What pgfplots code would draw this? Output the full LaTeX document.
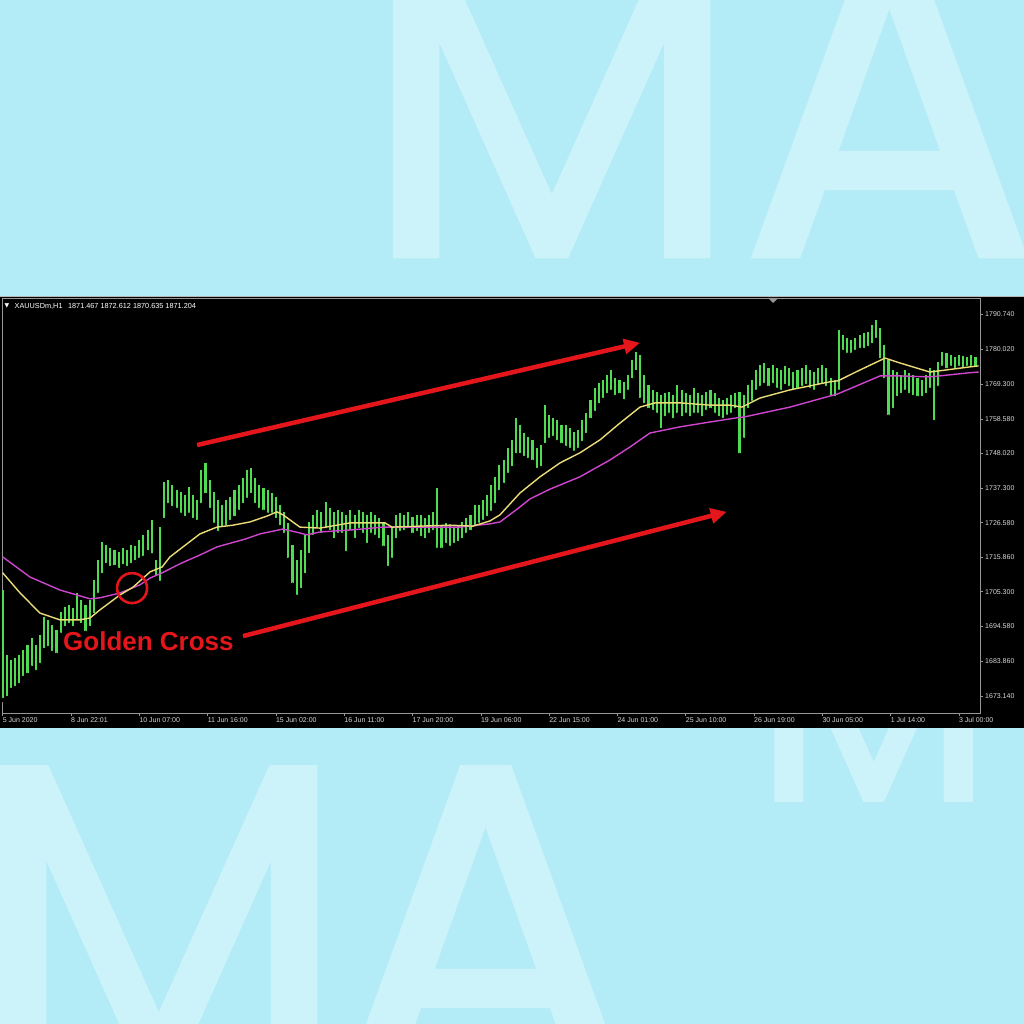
\documentclass[border=0pt]{standalone}
\usepackage{pgfplots}
\pgfplotsset{compat=1.18}
\usepackage{pgfplotstable}
\usepackage{fontspec}
\setmainfont{Liberation Sans}
\newfontfamily\posterfont[FakeBold=1.5]{Poppins}
\newfontfamily\symbolfont{DejaVu Sans}
\usetikzlibrary{arrows.meta}

\definecolor{bgblue}{RGB}{179,236,246}
\definecolor{letterblue}{RGB}{205,243,250}
\definecolor{framegray}{RGB}{150,150,150}
\definecolor{labelgray}{RGB}{215,215,215}
\definecolor{barcol}{RGB}{80,220,80}
\definecolor{maFast}{RGB}{235,220,120}
\definecolor{maSlow}{RGB}{205,70,205}
\definecolor{annred}{RGB}{228,22,28}

% shared geometry of the price panel
\pgfplotsset{pricepanel/.style={
  at={(2pt,311pt)}, anchor=south west,
  scale only axis, width=978pt, height=415pt,
  xmin=-0.34, xmax=472.2, ymin=1667.90, ymax=1795.83}}

% XAUUSD H1 bars (hour index, high, low)
\pgfplotstableread{
i hi lo
0 1705.8 1671.9
2 1685.8 1672.5
4 1684.2 1675.0
6 1684.9 1675.6
8 1685.8 1676.5
10 1687.3 1678.7
12 1688.9 1679.6
14 1691.0 1681.8
16 1688.9 1680.5
18 1692.0 1682.7
20 1697.5 1687.3
22 1696.6 1687.9
24 1695.0 1686.4
26 1693.5 1685.8
28 1699.0 1692.0
30 1700.6 1694.1
32 1701.2 1695.0
34 1700.3 1694.1
36 1704.9 1696.0
38 1702.7 1695.0
40 1701.2 1692.6
42 1702.7 1694.1
44 1708.9 1698.1
46 1715.1 1704.3
48 1720.6 1710.4
50 1719.7 1713.5
52 1718.8 1712.6
54 1718.2 1712.9
56 1717.5 1712.0
58 1718.8 1713.2
60 1718.2 1712.6
62 1719.7 1713.5
64 1719.4 1714.4
66 1721.2 1715.1
68 1722.8 1715.7
70 1724.3 1717.5
72 1727.4 1716.5
74 1715.1 1709.5
76 1725.2 1708.0
78 1739.1 1727.4
80 1739.7 1732.0
82 1738.2 1731.1
84 1736.6 1730.5
86 1736.0 1729.0
88 1735.1 1728.0
90 1737.6 1729.0
92 1735.1 1727.4
94 1733.6 1726.8
96 1742.8 1732.0
98 1745.0 1735.1
100 1739.7 1730.5
102 1736.0 1725.9
104 1733.6 1723.4
106 1732.0 1724.9
108 1733.6 1725.2
110 1734.5 1726.8
112 1736.6 1728.0
114 1738.2 1729.9
116 1740.3 1732.0
118 1742.8 1733.6
120 1743.4 1735.1
122 1740.3 1732.0
124 1738.2 1730.5
126 1737.3 1729.9
128 1736.6 1729.0
130 1735.7 1729.0
132 1734.5 1727.4
134 1732.0 1725.2
136 1729.9 1722.8
138 1726.5 1715.1
140 1719.7 1707.4
142 1715.1 1703.7
144 1718.2 1705.8
146 1722.8 1710.4
148 1726.8 1716.6
150 1729.0 1722.2
152 1730.5 1724.3
154 1729.9 1722.8
156 1733.0 1724.3
158 1731.1 1723.7
160 1729.9 1721.2
162 1730.5 1722.8
164 1729.9 1722.8
166 1729.0 1717.2
168 1730.5 1723.7
170 1729.0 1721.2
172 1730.5 1724.3
174 1729.9 1722.8
176 1729.0 1719.7
178 1729.9 1722.8
180 1729.0 1722.2
182 1728.0 1721.2
184 1726.8 1718.8
186 1722.8 1712.6
188 1724.9 1715.1
190 1729.0 1721.2
192 1729.6 1723.4
194 1729.0 1723.7
196 1729.9 1724.3
198 1728.3 1722.8
200 1729.0 1723.4
202 1729.0 1721.8
204 1728.0 1721.2
206 1729.0 1722.8
208 1729.9 1723.7
210 1737.3 1718.2
212 1725.9 1718.2
214 1726.5 1719.7
216 1725.9 1718.8
218 1724.9 1719.7
220 1725.9 1720.3
222 1726.8 1721.2
224 1728.0 1722.8
226 1729.0 1723.7
228 1732.0 1724.9
230 1732.0 1725.9
232 1733.6 1726.8
234 1735.1 1728.0
236 1738.2 1729.6
238 1740.6 1732.0
240 1744.3 1736.0
242 1745.9 1738.2
244 1749.6 1741.3
246 1752.1 1743.4
248 1758.8 1747.4
250 1756.7 1747.4
252 1754.2 1746.5
254 1753.0 1745.9
256 1752.1 1745.3
258 1749.6 1742.8
260 1750.5 1743.4
262 1762.8 1750.5
264 1759.8 1752.1
266 1758.8 1752.7
268 1758.2 1751.4
270 1756.7 1750.5
272 1756.7 1749.6
274 1755.8 1749.0
276 1754.5 1748.1
278 1755.1 1749.0
280 1758.2 1751.1
282 1760.4 1753.6
284 1764.4 1758.2
286 1768.1 1760.4
288 1769.6 1762.8
290 1770.5 1764.4
292 1772.1 1765.9
294 1773.6 1766.9
296 1771.2 1765.3
298 1770.5 1765.9
300 1769.9 1764.0
302 1772.1 1766.9
304 1776.7 1770.5
306 1779.2 1773.0
308 1778.3 1764.4
310 1772.1 1762.8
312 1769.0 1761.3
314 1767.5 1760.7
316 1766.9 1759.8
318 1765.9 1755.1
320 1766.6 1758.8
322 1766.9 1759.8
324 1765.9 1758.2
326 1769.0 1759.8
328 1767.5 1758.8
330 1766.6 1759.8
332 1765.9 1758.8
334 1768.1 1759.8
336 1766.6 1759.8
338 1765.9 1758.8
340 1766.9 1760.7
342 1767.5 1761.3
344 1766.6 1759.8
346 1765.0 1758.8
348 1764.4 1758.2
350 1765.0 1759.2
352 1765.9 1759.8
354 1766.6 1761.3
356 1766.9 1747.4
358 1765.9 1752.1
360 1769.0 1761.3
362 1770.5 1763.5
364 1773.6 1766.9
366 1775.2 1768.1
368 1775.8 1769.0
370 1774.3 1768.1
372 1775.2 1769.0
374 1774.3 1767.5
376 1773.6 1766.9
378 1774.9 1768.7
380 1774.3 1768.1
382 1773.0 1766.9
384 1773.6 1767.5
386 1774.3 1768.1
388 1775.2 1768.7
390 1773.6 1767.5
392 1773.0 1766.9
394 1774.3 1768.4
396 1775.2 1769.0
398 1774.3 1768.1
400 1771.2 1765.0
402 1770.5 1765.0
404 1786.0 1766.9
406 1784.4 1779.2
408 1783.5 1778.3
410 1782.9 1778.3
412 1783.5 1779.2
414 1784.4 1779.8
416 1785.0 1779.8
418 1785.3 1780.4
420 1787.5 1781.3
422 1789.1 1782.9
424 1786.6 1776.7
426 1781.3 1770.5
428 1776.7 1759.2
430 1773.6 1761.3
432 1773.0 1765.0
434 1772.1 1765.9
436 1773.6 1766.9
438 1772.7 1765.9
440 1772.1 1765.3
442 1771.2 1765.0
444 1770.5 1765.0
446 1772.1 1765.9
448 1774.3 1767.5
450 1773.6 1757.6
452 1776.1 1768.1
454 1779.2 1774.3
456 1778.9 1773.6
458 1778.3 1774.3
460 1777.7 1773.6
462 1778.3 1774.3
464 1778.0 1773.6
466 1777.7 1774.3
468 1778.3 1774.3
470 1777.7 1774.0
}\hourbars

\begin{document}
\begin{tikzpicture}
\useasboundingbox (0,0) rectangle (1024pt,1024pt);

% poster background with the large MA lettering
\begin{scope}[x=1pt,y=-1pt,yshift=1024pt]
  \fill[bgblue] (0,0) rectangle (1024,1024);
  \clip (0,0) rectangle (1024,1024);
  \node[anchor=base west,inner sep=0pt,text=letterblue,
        font=\posterfont\fontsize{440}{440}\selectfont] at (362,255) {MA};
  \node[anchor=base west,inner sep=0pt,text=letterblue,
        font=\posterfont\fontsize{440}{440}\selectfont] at (-31,1073) {M};
  \node[anchor=base west,inner sep=0pt,text=letterblue,
        font=\posterfont\fontsize{440}{440}\selectfont] at (337,1073) {A};
  \node[anchor=base west,inner sep=0pt,text=letterblue,
        font=\posterfont\fontsize{275}{275}\selectfont] at (755,800) {M};
  % terminal window
  \fill[black] (0,296) rectangle (1024,728);
  \draw[framegray!70,line width=0.6pt] (0,296.5) -- (1024,296.5);
\end{scope}

% price bars with the chart frame and scales
\begin{axis}[
  pricepanel,
  axis background/.style={fill=black},
  axis line style={draw=framegray,line width=0.7pt},
  tick style={draw=framegray,line width=0.6pt},
  tick align=outside, major tick length=3pt,
  xtick pos=left, ytick pos=right, yticklabel pos=right,
  xtick={0,33,...,462},
  xticklabels={5 Jun 2020,8 Jun 22:01,10 Jun 07:00,11 Jun 16:00,15 Jun 02:00,
    16 Jun 11:00,17 Jun 20:00,19 Jun 06:00,22 Jun 15:00,24 Jun 01:00,
    25 Jun 10:00,26 Jun 19:00,30 Jun 05:00,1 Jul 14:00,3 Jul 00:00},
  ytick={1673.14,1683.86,1694.58,1705.30,1715.86,1726.58,1737.30,1748.02,
    1758.58,1769.30,1780.02,1790.74},
  yticklabels={1673.140,1683.860,1694.580,1705.300,1715.860,1726.580,
    1737.300,1748.020,1758.580,1769.300,1780.020,1790.740},
  ticklabel style={font=\fontsize{7}{8}\selectfont,text=labelgray},
  xticklabel style={anchor=north west,inner sep=0pt,yshift=-1pt},
  yticklabel style={anchor=west,inner sep=0pt,xshift=2pt},
  /pgf/number format/assume math mode=true,
]
\addplot[only marks, mark=none,
  error bars/.cd, y dir=plus, y explicit, error mark=none,
  error bar style={draw=barcol,line width=2.1pt}]
  table[x=i, y=lo, y error expr=\thisrow{hi}-\thisrow{lo}] {\hourbars};
\end{axis}

% moving averages and annotations over the bars
\begin{axis}[pricepanel, hide axis]
% slow moving average
\addplot[maSlow, line width=1.4pt] coordinates {
  (0,1716.0) (13.2,1709.8) (27.7,1705.8) (42.2,1703.1) (47.0,1703.4)
  (56.7,1704.9) (66.3,1707.4) (71.2,1709.5) (77.0,1711.1) (86.0,1714.0)
  (95.3,1716.6) (103.5,1719.1) (117.1,1721.5) (124.3,1723.1) (135.4,1724.6)
  (143.6,1723.4) (147.0,1722.8) (153.3,1723.7) (167.8,1724.3) (183.7,1725.2)
  (201.6,1725.2) (220.9,1725.2) (235.4,1726.2) (240.3,1726.8) (249.9,1731.4)
  (254.8,1733.9) (264.4,1736.9) (278.9,1740.7) (293.4,1745.9) (303.1,1749.9)
  (312.7,1754.2) (327.2,1756.1) (341.7,1757.6) (353.8,1758.8) (358.6,1759.2)
  (380.4,1762.2) (403.6,1766.3) (423.9,1771.8) (433.5,1771.8) (448.0,1771.5)
  (467.4,1772.8) (471.5,1773.0)
};
% fast moving average
\addplot[maFast, line width=1.4pt] coordinates {
  (0,1711.1) (8.4,1704.9) (18.0,1698.7) (27.7,1696.6) (37.3,1696.6)
  (42.2,1697.2) (47.0,1699.7) (56.7,1704.3) (63.0,1706.7) (71.2,1711.4)
  (77.0,1712.9) (80.8,1716.0) (87.1,1719.1) (95.3,1723.1) (103.5,1725.2)
  (111.3,1725.8) (119.5,1726.8) (127.7,1728.6) (132.5,1729.9) (135.4,1729.0)
  (143.6,1725.2) (153.3,1724.9) (167.8,1726.5) (184.7,1726.5) (188.1,1725.2)
  (201.6,1725.5) (216.1,1725.8) (227.2,1725.5) (235.4,1727.1) (240.3,1729.0)
  (249.9,1735.7) (259.6,1740.7) (269.3,1745.0) (278.9,1748.1) (288.6,1752.1)
  (298.3,1757.3) (307.9,1762.2) (315.2,1763.5) (327.2,1763.5) (341.7,1762.8)
  (351.4,1762.8) (357.2,1762.2) (365.9,1765.0) (380.4,1767.5) (399.7,1770.0)
  (403.6,1770.3) (414.1,1773.6) (426.3,1777.3) (433.5,1775.8) (448.0,1773.0)
  (455.3,1773.6) (467.4,1774.6) (471.5,1774.9)
};
% trend arrows and the crossing marker
\draw[annred, line width=4.5pt, -{Triangle[length=16pt,width=15pt]}]
  (axis cs:93.9,1750.5) -- (axis cs:307.9,1782.0);
\draw[annred, line width=4.5pt, -{Triangle[length=16pt,width=15pt]}]
  (axis cs:116.1,1691.6) -- (axis cs:349.8,1729.9);
\draw[annred, line width=2.6pt] (axis cs:62.5,1706.4) circle [radius=15pt];
\end{axis}

\begin{scope}[x=1pt,y=-1pt,yshift=1024pt]
  \node[anchor=west,inner sep=0pt,text=white,font=\symbolfont\fontsize{6}{7}\selectfont]
    at (4.5,306) {▼};
  \node[anchor=west,inner sep=0pt,text=white,font=\fontsize{7.3}{8}\selectfont]
    at (14.5,306) {XAUUSDm,H1\hspace{3.5pt} 1871.467 1872.612 1870.635 1871.204};
  \fill[framegray] (768,298) -- (778,298) -- (773,303) -- cycle;
  \node[anchor=base west,inner sep=0pt,text=annred,
        font=\bfseries\fontsize{26}{26}\selectfont] at (63,651) {Golden Cross};
\end{scope}
\end{tikzpicture}
\end{document}
